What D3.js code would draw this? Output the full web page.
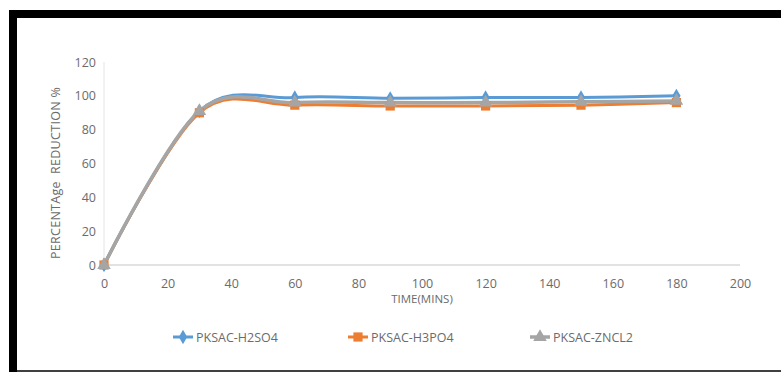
<!DOCTYPE html>
<html>
<head>
<meta charset="utf-8">
<script src="https://cdn.jsdelivr.net/npm/d3@7"></script>
<style>
  html, body { margin: 0; padding: 0; background: #fff; }
  svg { display: block; }
  text { font-family: "Open Sans", "Noto Sans", sans-serif; fill: #6b6b6b; }
</style>
</head>
<body>
<svg id="chart" width="781" height="372"></svg>
<script>
// Reduction over time for three activated carbons
const times = [0, 30, 60, 90, 120, 150, 180];
const h2so4 = [0, 91, 99, 98.5, 99, 99, 100];
const h3po4 = [0, 90, 94.5, 94, 94, 94.5, 96];
const zncl2 = [0, 91, 96, 96, 96, 96.5, 97];
const seriesNames = ["PKSAC-H2SO4", "PKSAC-H3PO4", "PKSAC-ZNCL2"];
const xTicks = [0, 20, 40, 60, 80, 100, 120, 140, 160, 180, 200];
const yTicks = [0, 20, 40, 60, 80, 100, 120];

const svg = d3.select("#chart");

// frame
svg.append("rect").attr("x", 9).attr("y", 10).attr("width", 790).attr("height", 8).attr("fill", "#000");
svg.append("rect").attr("x", 9).attr("y", 10).attr("width", 8).attr("height", 362).attr("fill", "#000");
svg.append("line").attr("x1", 9).attr("x2", 781).attr("y1", 371).attr("y2", 371).attr("stroke", "#000").attr("stroke-width", 1.5);

const x = d3.scaleLinear().domain([0, 200]).range([104, 740]);
const y = d3.scaleLinear().domain([0, 120]).range([265, 62]);

// axis lines
svg.append("line").attr("x1", x(0)).attr("x2", x(200)).attr("y1", y(0)).attr("y2", y(0))
  .attr("stroke", "#d9d9d9").attr("stroke-width", 1.5);
svg.append("line").attr("x1", x(0)).attr("x2", x(0)).attr("y1", y(0)).attr("y2", y(120))
  .attr("stroke", "#e4e4e4").attr("stroke-width", 1);

// tick labels
const xAxis = svg.append("g").attr("transform", `translate(0,${y(0)})`)
  .call(d3.axisBottom(x).tickValues(xTicks).tickSize(0).tickPadding(14));
xAxis.select(".domain").remove();
xAxis.selectAll("text").style("font-size", "12.5px").attr("fill", "#6b6b6b")
  .style("font-family", '"Open Sans", sans-serif');

const yAxis = svg.append("g").attr("transform", `translate(${x(0)},0)`)
  .call(d3.axisLeft(y).tickValues(yTicks).tickSize(0).tickPadding(8));
yAxis.select(".domain").remove();
yAxis.selectAll("text").style("font-size", "12.5px").attr("fill", "#6b6b6b")
  .style("font-family", '"Open Sans", sans-serif');

// axis titles
svg.append("text").attr("x", x(100)).attr("y", 303).attr("text-anchor", "middle")
  .style("font-size", "11.5px").text("TIME(MINS)");
svg.append("text").attr("transform", `translate(60,173) rotate(-90)`)
  .attr("text-anchor", "middle").style("font-size", "12.5px").style("letter-spacing", "0.3px")
  .attr("xml:space", "preserve").text("PERCENTAge  REDUCTION %");

const series = [
  { name: seriesNames[0], values: h2so4, color: "#5b9bd5", shape: d3.symbolDiamond, size: 60, width: 3 },
  { name: seriesNames[1], values: h3po4, color: "#ed7d31", shape: d3.symbolSquare, size: 85, width: 3 },
  { name: seriesNames[2], values: zncl2, color: "#a5a5a5", shape: d3.symbolTriangle, size: 80, width: 3.5 }
];

const line = d3.line()
  .x((d, i) => x(times[i]))
  .y(d => y(d))
  .curve(d3.curveCardinal.tension(0));

series.forEach(s => {
  svg.append("path").datum(s.values).attr("d", line)
    .attr("fill", "none").attr("stroke", s.color).attr("stroke-width", s.width)
    .attr("stroke-linejoin", "round");
});
series.forEach(s => {
  svg.append("g").selectAll("path").data(s.values).join("path")
    .attr("transform", (d, i) => `translate(${x(times[i])},${y(d)})`)
    .attr("d", d3.symbol().type(s.shape).size(s.size))
    .attr("fill", s.color);
});

// legend
const legendX = [183, 358, 540];
series.forEach((s, i) => {
  const g = svg.append("g").attr("transform", `translate(${legendX[i]},337)`);
  g.append("line").attr("x1", -10).attr("x2", 10).attr("y1", 0).attr("y2", 0)
    .attr("stroke", s.color).attr("stroke-width", s.width);
  g.append("path").attr("d", d3.symbol().type(s.shape).size(s.size)).attr("fill", s.color);
  g.append("text").attr("x", 13).attr("y", 4.5).style("font-size", "12.5px").text(s.name);
});
</script>
</body>
</html>
